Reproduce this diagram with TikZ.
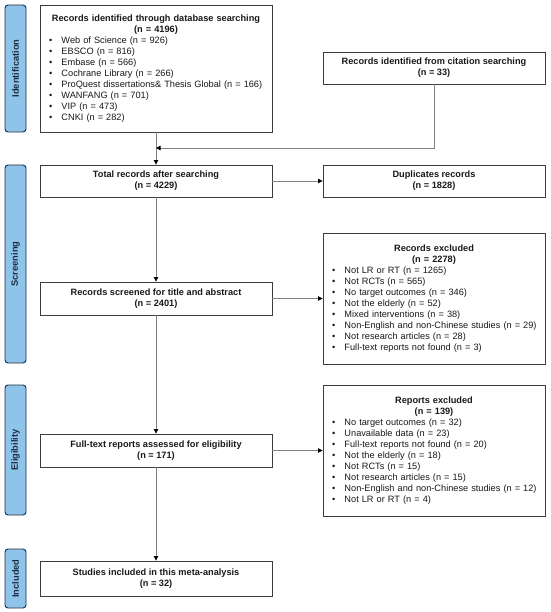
\documentclass[tikz,border=0pt]{standalone}
\usepackage{fontspec}
\setmainfont{Liberation Sans}
\usetikzlibrary{arrows.meta}
\definecolor{lblue}{RGB}{143,196,234}
\definecolor{navy}{RGB}{30,45,65}
\definecolor{boxline}{RGB}{60,60,60}
\definecolor{connc}{RGB}{128,128,128}
\definecolor{txt}{RGB}{25,25,25}
\newcommand\bitem[1]{\par\noindent\mbox{\makebox[12.5pt][l]{\textbullet}#1}}
\newcommand\btitle[2]{{\centering\bfseries #1\\#2\par}}
\begin{document}
\begin{tikzpicture}[x=1pt,y=-1pt,
  every node/.style={font=\fontsize{9.2}{11}\selectfont, text=txt},
  box/.style={draw=boxline, line width=0.9pt, fill=white, inner sep=0pt, align=center},
  listbox/.style={draw=boxline, line width=0.9pt, fill=white, inner xsep=9pt, inner ysep=0pt},
  lbl/.style={draw=navy, fill=lblue, rounded corners=3pt, line width=0.9pt, inner sep=0pt,
    font=\fontsize{9.3}{11}\selectfont\bfseries, text=navy},
  conn/.style={draw=connc, line width=0.8pt, -{Triangle[length=4.5pt,width=4.5pt,color=black]}},
]
\useasboundingbox[fill=white] (0,0) rectangle (550,612);

% phase labels
\node[lbl, minimum width=21pt, minimum height=127pt] (lid) at (15.5,68.5) {\rotatebox{90}{Identification}};
\node[lbl, minimum width=21pt, minimum height=198pt] (lsc) at (15.5,264) {\rotatebox{90}{Screening}};
\node[lbl, minimum width=21pt, minimum height=130pt] (lel) at (15.5,450) {\rotatebox{90}{Eligibility}};
\node[lbl, minimum width=21pt, minimum height=59pt] (lin) at (15.5,578.5) {\rotatebox{90}{Included}};

% left column
\node[listbox, minimum width=232pt, minimum height=127pt, text width=214pt] (db) at (156,68.5) {%
\btitle{Records identified through database searching}{(n = 4196)}%
\bitem{Web of Science (n = 926)}%
\bitem{EBSCO (n = 816)}%
\bitem{Embase (n = 566)}%
\bitem{Cochrane Library (n = 266)}%
\bitem{ProQuest dissertations\& Thesis Global (n = 166)}%
\bitem{WANFANG (n = 701)}%
\bitem{VIP (n = 473)}%
\bitem{CNKI (n = 282)}};

\node[box, minimum width=232pt, minimum height=32pt] (tot) at (156,181) {\bfseries Total records after searching\\\bfseries (n = 4229)};
\node[box, minimum width=232pt, minimum height=33pt] (scr) at (156,298.5) {\bfseries Records screened for title and abstract\\\bfseries (n = 2401)};
\node[box, minimum width=232pt, minimum height=33pt] (full) at (156,450.5) {\bfseries Full-text reports assessed for eligibility\\\bfseries (n = 171)};
\node[box, minimum width=232pt, minimum height=35pt] (incl) at (156,578.5) {\bfseries Studies included in this meta-analysis\\\bfseries (n = 32)};

% right column
\node[box, minimum width=222pt, minimum height=32pt] (cit) at (434,68) {\bfseries Records identified from citation searching\\\bfseries (n = 33)};
\node[box, minimum width=222pt, minimum height=32pt] (dup) at (434,181) {\bfseries Duplicates records\\\bfseries (n = 1828)};

\node[listbox, minimum width=222pt, minimum height=131pt, text width=204pt] (recex) at (434,298.5) {%
\btitle{Records excluded}{(n = 2278)}%
\bitem{Not LR or RT (n = 1265)}%
\bitem{Not RCTs (n = 565)}%
\bitem{No target outcomes (n = 346)}%
\bitem{Not the elderly (n = 52)}%
\bitem{Mixed interventions (n = 38)}%
\bitem{Non-English and non-Chinese studies (n = 29)}%
\bitem{Not research articles (n = 28)}%
\bitem{Full-text reports not found (n = 3)}};

\node[listbox, minimum width=222pt, minimum height=131pt, text width=204pt] (repex) at (434,450.5) {%
\btitle{Reports excluded}{(n = 139)}%
\bitem{No target outcomes (n = 32)}%
\bitem{Unavailable data (n = 23)}%
\bitem{Full-text reports not found (n = 20)}%
\bitem{Not the elderly (n = 18)}%
\bitem{Not RCTs (n = 15)}%
\bitem{Not research articles (n = 15)}%
\bitem{Non-English and non-Chinese studies (n = 12)}%
\bitem{Not LR or RT (n = 4)}};

% connectors
\coordinate (join) at (156,148);
\draw[conn] (db.south) -- (tot.north);
\draw[conn] (cit.south) |- (join);
\draw[conn] (tot.east) -- (dup.west);
\draw[conn] (tot.south) -- (scr.north);
\draw[conn] (scr.east) -- (recex.west);
\draw[conn] (scr.south) -- (full.north);
\draw[conn] (full.east) -- (repex.west);
\draw[conn] (full.south) -- (incl.north);
\end{tikzpicture}
\end{document}
